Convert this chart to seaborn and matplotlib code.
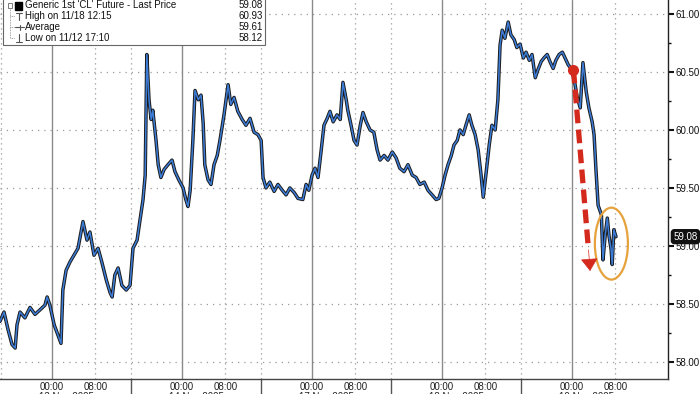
import matplotlib
matplotlib.use("Agg")
import matplotlib.pyplot as plt
import matplotlib.patches as mpatches
import matplotlib.transforms as mtransforms
from matplotlib.lines import Line2D
import seaborn as sns
import numpy as np
import pandas as pd

# ---- data (hours on a trading-session axis, 0 = 13 Nov 00:00, weekend removed) ----
hours = [-9.6, -8.86, -8.12, -7.38, -6.8, -6.46, -5.9, -5.0, -4.06, -3.14, -2.2, -1.3, -0.9, -0.4,
         0.4, 1.1, 1.66, 2.0, 2.6, 3.3, 4.06, 4.8, 5.72, 6.46, 7.0, 7.75, 8.5, 9.2, 10.0, 10.7,
         11.1, 11.6, 12.2, 12.9, 13.7, 14.4, 14.95, 15.7, 16.2, 16.8, 17.2, 17.5, 17.9, 18.3,
         18.6, 19.2, 19.6, 20.1, 20.7, 21.4, 22.15, 22.7, 23.4, 24.2, 24.7, 25.1, 25.5, 26.0,
         26.4, 27.0, 27.5, 27.9, 28.2, 28.8, 29.35, 29.9, 30.5, 31.0, 31.75, 32.5, 33.0, 33.6,
         34.3, 35.1, 35.8, 36.55, 37.3, 38.0, 38.6, 38.95, 39.5, 40.2, 41.0, 41.7, 42.5, 43.2,
         43.9, 44.7, 45.4, 46.3, 46.9, 47.4, 48.0, 48.55, 49.1, 49.7, 50.2, 50.8, 51.3, 51.9,
         52.6, 53.2, 53.7, 54.3, 54.6, 55.2, 55.75, 56.3, 56.9, 57.4, 58.0, 58.7, 59.4, 60.0,
         60.55, 61.3, 62.0, 62.8, 63.5, 64.2, 64.98, 65.7, 66.5, 67.2, 67.9, 68.7, 69.4, 70.15,
         70.9, 71.4, 72.0, 72.55, 73.1, 73.7, 74.2, 74.8, 75.3, 75.9, 76.4, 77.0, 77.5, 78.1,
         78.65, 79.2, 79.6, 80.2, 80.7, 81.2, 81.8, 82.3, 82.7, 83.1, 83.6, 84.2, 84.7, 85.3,
         85.8, 86.4, 87.0, 87.5, 88.1, 88.6, 89.2, 89.7, 90.3, 90.8, 91.4, 91.9, 92.5, 93.0,
         93.6, 94.2, 94.7, 95.3, 95.8, 96.4, 96.95, 97.5, 98.0, 98.6, 99.1, 99.7, 100.05, 100.4,
         100.8, 101.4, 101.7, 102.1, 102.5, 102.8, 103.2, 103.4, 103.7, 104.1]
price = [58.35, 58.43, 58.28, 58.15, 58.12, 58.32, 58.43, 58.38, 58.47, 58.41, 58.45, 58.49, 58.56, 58.49,
         58.32, 58.23, 58.16, 58.62, 58.79, 58.86, 58.92, 58.98, 59.21, 59.05, 59.12, 58.92, 58.98, 58.86, 58.71, 58.60,
         58.56, 58.75, 58.81, 58.66, 58.62, 58.66, 58.98, 59.05, 59.21, 59.40, 59.61, 60.65, 60.26, 60.09,
         60.17, 59.91, 59.70, 59.59, 59.66, 59.70, 59.74, 59.64, 59.57, 59.50, 59.40, 59.34, 59.48, 59.91,
         60.34, 60.26, 60.30, 60.06, 59.70, 59.57, 59.53, 59.70, 59.78, 59.91, 60.13, 60.39, 60.22, 60.28,
         60.16, 60.09, 60.04, 60.10, 59.98, 59.96, 59.91, 59.59, 59.50, 59.55, 59.47, 59.53, 59.48, 59.44,
         59.50, 59.46, 59.41, 59.40, 59.53, 59.48, 59.61, 59.67, 59.59, 59.83, 60.04, 60.10, 60.16, 60.07,
         60.13, 60.09, 60.41, 60.26, 60.17, 60.04, 59.91, 59.87, 60.04, 60.15, 60.07, 60.00, 59.98, 59.83,
         59.74, 59.78, 59.74, 59.81, 59.76, 59.67, 59.64, 59.70, 59.61, 59.59, 59.53, 59.55, 59.48, 59.44,
         59.40, 59.41, 59.50, 59.61, 59.70, 59.78, 59.87, 59.91, 60.00, 59.96, 60.04, 60.13, 60.04, 59.96,
         59.83, 59.61, 59.42, 59.66, 59.87, 60.04, 60.00, 60.26, 60.73, 60.86, 60.79, 60.93, 60.82, 60.78,
         60.71, 60.74, 60.62, 60.67, 60.60, 60.65, 60.45, 60.52, 60.59, 60.62, 60.65, 60.59, 60.53, 60.60,
         60.65, 60.67, 60.62, 60.56, 60.53, 60.43, 60.28, 60.19, 60.58, 60.33, 60.19, 60.07, 59.96, 59.66,
         59.35, 59.27, 58.88, 59.09, 59.24, 59.09, 58.97, 58.84, 59.14, 59.08]

day_midnights = [0, 24, 48, 72, 96]
day_labels = ["13 Nov 2025", "14 Nov 2025", "17 Nov 2025", "18 Nov 2025", "19 Nov 2025"]
session_breaks = [14.6, 38.6, 62.6, 86.6]
yticks = [58.0, 58.5, 59.0, 59.5, 60.0, 60.5, 61.0]

legend_rows = ["Generic 1st 'CL' Future - Last Price", "High on 11/18 12:15", "Average", "Low on 11/12 17:10"]
legend_vals = ["59.08", "60.93", "59.61", "58.12"]
last_price = 59.08

df = pd.DataFrame({"h": hours, "p": price})

sns.set_style("white")
plt.rcParams["font.family"] = ["Liberation Sans", "DejaVu Sans"]

W, H = 700, 394
fig = plt.figure(figsize=(7, 3.94), dpi=100)
ax = fig.add_axes([0, 1 - 379 / H, 668 / W, 379 / H])

ax.set_xlim(-9.6, 113.7)
ax.set_ylim(57.853, 61.12)

# grid
for y in yticks:
    ax.axhline(y, color="#9a9a9a", lw=0.9, ls=(0, (1, 4)), zorder=1)
for d in day_midnights:
    ax.axvline(d, color="#8a8a8a", lw=1.0, zorder=1)
    ax.axvline(d + 8, color="#9a9a9a", lw=0.9, ls=(0, (1, 3)), zorder=1)
for b in [session_breaks[0] - 24] + session_breaks:
    ax.axvline(b, color="#9a9a9a", lw=0.9, ls=(0, (1, 3)), zorder=1)

# price
sns.lineplot(data=df, x="h", y="p", ax=ax, color="#1b1b1b", lw=2.5, zorder=3)
sns.lineplot(data=df, x="h", y="p", ax=ax, color="#3C7CD6", lw=1.1, zorder=4)

# annotations: red dashed arrow and orange ellipse
ax.plot([96.25, 99.0], [60.52, 58.98], color="#D42A1E", lw=3.8,
        ls=(0, (2.6, 1.2)), solid_capstyle="butt", zorder=6)
ax.annotate("", xy=(99.35, 58.76), xytext=(99.0, 58.99),
            arrowprops=dict(arrowstyle="-|>,head_length=0.8,head_width=0.55",
                            color="#D42A1E", lw=0.5), zorder=7)
ax.plot([96.25], [60.52], "o", color="#D42A1E", ms=7, zorder=7)
ax.add_patch(mpatches.Ellipse((103.25, 59.02), 6.1, 0.62, fill=False,
                              edgecolor="#E6A23C", lw=1.6, zorder=6))

# spines / axes
sns.despine(ax=ax, left=True, top=True, right=False, bottom=False)
ax.spines["right"].set_color("#222")
ax.spines["right"].set_linewidth(1.0)
ax.spines["bottom"].set_color("#444")
ax.spines["bottom"].set_linewidth(1.0)
ax.set_xlabel("")
ax.set_ylabel("")

ax.yaxis.tick_right()
ax.set_yticks(yticks)
ax.set_yticklabels([f"{v:.2f}" for v in yticks])
ax.set_yticks(np.arange(58.25, 61.0, 0.5), minor=True)
ax.tick_params(axis="y", which="major", direction="out", length=4, width=1.5,
               colors="#111", labelsize=7, pad=1.5, right=True, left=False)
ax.tick_params(axis="y", which="minor", direction="out", length=2, width=1,
               color="#111", right=True, left=False)

xt = []
xl = []
for d in day_midnights:
    xt += [d, d + 8]
    xl += ["00:00", "08:00"]
ax.set_xticks(xt)
ax.set_xticklabels(xl)
ax.set_xticks(np.arange(-8, 112, 4), minor=True)
ax.tick_params(axis="x", which="major", length=0, labelsize=7, pad=2.5, colors="#222")
ax.tick_params(axis="x", which="minor", direction="in", length=3, width=0.8, color="#444")

trans = mtransforms.blended_transform_factory(ax.transData, ax.transAxes)
for b in session_breaks:
    ax.plot([b, b], [0, -0.06], transform=trans, clip_on=False, color="#555", lw=1.0)
for d, lab in zip(day_midnights, day_labels):
    ax.text(d + 2.6, -0.0355, lab, transform=trans, ha="center", va="top",
            fontsize=7, color="#222")

# last price box
ytrans = mtransforms.blended_transform_factory(ax.transAxes, ax.transData)
ax.text(1.008, last_price, f"{last_price:.2f}", transform=ytrans, ha="left", va="center",
        fontsize=7, color="white", zorder=10,
        bbox=dict(boxstyle="round,pad=0.2,rounding_size=0.3", fc="#111", ec="#111"))

# legend box (figure pixel coords)
def P(x, y):
    return (x / W, 1 - y / H)

rect = mpatches.Rectangle(P(3, 45), 262 / W, 47 / H, transform=fig.transFigure,
                          fc="white", ec="#666", lw=0.8, zorder=20)
fig.add_artist(rect)
rows_y = [5.5, 16.2, 27, 37.8]
for ry, lab, val in zip(rows_y, legend_rows, legend_vals):
    fig.text(*P(25, ry), lab, ha="left", va="center", fontsize=7, color="#111", zorder=21)
    fig.text(*P(263, ry), val, ha="right", va="center", fontsize=7, color="#111", zorder=21)
# icons
fig.add_artist(mpatches.Rectangle(P(15, 10), 7 / W, 8 / H, transform=fig.transFigure,
                                  fc="black", ec="black", zorder=21))
fig.add_artist(mpatches.Rectangle(P(8, 7.5), 4 / W, 4 / H, transform=fig.transFigure,
                                  fc="white", ec="#666", lw=0.6, zorder=21))
def L(xs, ys, **kw):
    pts = [P(x, y) for x, y in zip(xs, ys)]
    fig.add_artist(Line2D([p[0] for p in pts], [p[1] for p in pts],
                          transform=fig.transFigure, zorder=21, **kw))
L([10, 10], [8, 38], color="#888", lw=0.6, ls=(0, (1, 1)))
for ry in rows_y[1:]:
    L([10, 15], [ry, ry], color="#888", lw=0.6, ls=(0, (1, 1)))
L([16, 22], [12.5, 12.5], color="#555", lw=0.8)
L([19, 19], [12.5, 20], color="#555", lw=0.8)
L([15, 24], [27, 27], color="#555", lw=0.8)
L([19.5, 19.5], [24.5, 29.5], color="#555", lw=0.8)
L([16, 22], [41.5, 41.5], color="#555", lw=0.8)
L([19, 19], [34, 41.5], color="#555", lw=0.8)

fig.savefig("out.png", dpi=100)
